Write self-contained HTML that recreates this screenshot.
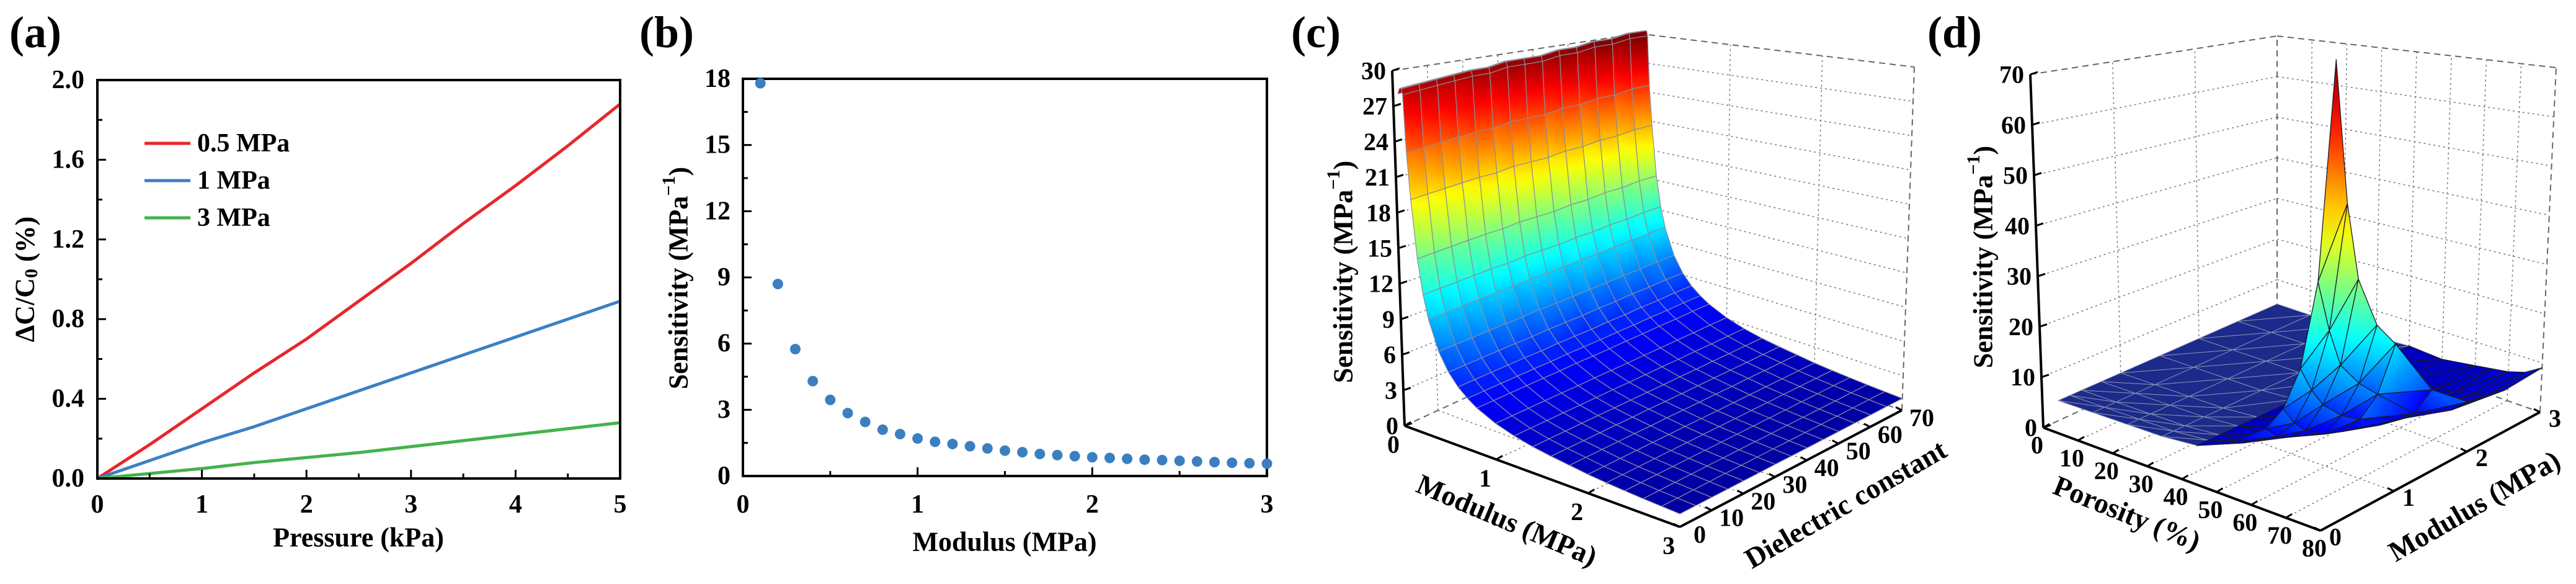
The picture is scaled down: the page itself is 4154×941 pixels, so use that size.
<!DOCTYPE html>
<html><head><meta charset="utf-8">
<style>
html,body{margin:0;padding:0;background:#fff;}
svg{display:block;font-family:"Liberation Serif",serif;}
</style></head>
<body>
<svg id="fig" xmlns="http://www.w3.org/2000/svg" width="4154" height="941" viewBox="0 0 4154 941">
<defs id="defs"></defs>
<rect width="4154" height="941" fill="#fff"/>
<g id="pa"></g>
<g id="pb"></g>
<g id="pc"></g>
<g id="pd"></g>
</svg>
<script>
// ---------- Panel (a) data ----------
const aPressure = [0,0.5,1,1.5,2,2.5,3,3.5,4,4.5,5];
const aRed   = [0,0.17,0.35,0.53,0.70,0.89,1.08,1.28,1.47,1.67,1.88];
const aBlue  = [0,0.09,0.18,0.26,0.35,0.44,0.53,0.62,0.71,0.80,0.89];
const aGreen = [0,0.025,0.05,0.08,0.105,0.13,0.16,0.19,0.22,0.25,0.28];
const aSeriesNames = ["0.5 MPa","1 MPa","3 MPa"];
const aXTicks = [0,1,2,3,4,5];
const aYTicks = ["0.0","0.4","0.8","1.2","1.6","2.0"];
// ---------- Panel (b) data ----------
const bModulus = [0.1,0.2,0.3,0.4,0.5,0.6,0.7,0.8,0.9,1.0,1.1,1.2,1.3,1.4,1.5,1.6,1.7,1.8,1.9,2.0,2.1,2.2,2.3,2.4,2.5,2.6,2.7,2.8,2.9,3.0];
const bSens = [17.8,8.7,5.75,4.3,3.45,2.85,2.45,2.1,1.9,1.7,1.55,1.45,1.35,1.25,1.15,1.08,1.0,0.95,0.9,0.85,0.82,0.78,0.74,0.72,0.69,0.66,0.63,0.6,0.58,0.56];
const bXTicks = [0,1,2,3];
const bYTicks = [0,3,6,9,12,15,18];
// ---------- Panel (c) data ----------
const cModulus = [0.05,0.07,0.09,0.1,0.12,0.15,0.2,0.25,0.3,0.4,0.5,0.6,0.7,0.8,1.0,1.2,1.4,1.6,1.8,2.0,2.2,2.4,2.6,2.8,3.0];
const cSensAtModulus = [29,29.5,29.5,29,24,20,15,12,10,7.5,6,5,4.3,3.75,3,2.5,2.15,1.9,1.7,1.5,1.36,1.25,1.15,1.07,1.0];
const cDielectric = [0,5,10,15,20,25,30,35,40,45,50,55,60,65,70];
const cDielFactor = [0.97,0.975,0.98,0.985,0.99,0.99,1.0,1.0,1.0,1.01,1.01,1.02,1.02,1.03,1.03];
const cZTicks = [0,3,6,9,12,15,18,21,24,27,30];
const cMTicks = [0,1,2,3];
const cDTicks = [0,10,20,30,40,50,60,70];
// ---------- Panel (d) data ----------
const dPorosity = [0,10,20,30,40,50,60,65,70,75,80];
const dModulus = [0.2,0.35,0.5,0.75,1.0,1.5,2.0,2.5,3.0];
const dSens = [
 [4,4,4,4,4,4,4,4,4],
 [4,4,4,4,4,4,4,4,4],
 [4,4,4,4,4,4,4,4,4],
 [4,4,4,4,4,4,4,4,4],
 [4.5,4.5,4.5,4.5,4.5,4.5,4.5,4.5,4.5],
 [7,6,5.5,5,4.5,4,3.5,3.5,4],
 [11,9,8,7,6,4.5,4,4,5],
 [15,12,10,8,7,5,4.5,4.5,5.5],
 [22,18,15,12,10,7,5.5,5,6],
 [36,28,22,18,15,9,6.5,6,7],
 [70,48,36,28,24,14,9,8,9]
];
const dZTicks = [0,10,20,30,40,50,60,70];
const dPTicks = [0,10,20,30,40,50,60,70,80];
const dMTicks = [0,1,2,3];

const NS="http://www.w3.org/2000/svg";
const defs=document.getElementById('defs');
let gradId=0;
function mk(tag,parent){const e=document.createElementNS(NS,tag);parent.appendChild(e);return e;}
function txt(parent,x,y,s,size,anchor,weight){const t=mk('text',parent);t.setAttribute('x',x);t.setAttribute('y',y);t.setAttribute('font-size',size);t.setAttribute('text-anchor',anchor||'middle');t.setAttribute('dominant-baseline','central');t.setAttribute('font-weight',weight||'bold');t.textContent=s;return t;}
function ln(parent,x1,y1,x2,y2,stroke,w,dash){const l=mk('line',parent);l.setAttribute('x1',x1);l.setAttribute('y1',y1);l.setAttribute('x2',x2);l.setAttribute('y2',y2);l.setAttribute('stroke',stroke);l.setAttribute('stroke-width',w);if(dash)l.setAttribute('stroke-dasharray',dash);return l;}

// ================= Panel a =================
(function(){
const g=document.getElementById('pa');
const L=157,R=1000,T=129,B=771;
const X=v=>L+(v/5)*(R-L), Y=v=>B-(v/2)*(B-T);
let t=txt(g,57,52,'(a)',72,'middle','bold');


const cols=['#e8262b','#3b80c3','#45b24a'];
const ser=[aRed,aBlue,aGreen];
ser.forEach((s,i)=>{
  const p=mk('polyline',g);
  p.setAttribute('points',s.map((v,j)=>X(aPressure[j])+','+Y(v)).join(' '));
  p.setAttribute('fill','none');p.setAttribute('stroke',cols[i]);p.setAttribute('stroke-width',5);
  
  
});
const fr=mk('rect',g);fr.setAttribute('x',L);fr.setAttribute('y',T);fr.setAttribute('width',R-L);fr.setAttribute('height',B-T);fr.setAttribute('fill','none');fr.setAttribute('stroke','#000');fr.setAttribute('stroke-width',4);


aXTicks.forEach(v=>{ln(g,X(v),B,X(v),B-14,'#000',3);
  const tl=txt(g,X(v),813,String(v),42,'middle','bold');
  
  
  if(v<5)ln(g,X(v+0.5),B,X(v+0.5),B-8,'#000',3);});
aYTicks.forEach(s=>{const v=parseFloat(s);ln(g,L,Y(v),L+14,Y(v),'#000',3);
  const tl=txt(g,136,Y(v),s,42,'end','bold');
  
  
  if(v<2)ln(g,L,Y(v+0.2),L+8,Y(v+0.2),'#000',3);});
const xt=txt(g,578,866,'Pressure (kPa)',44,'middle','bold');


const yt=txt(g,0,0,'',44,'middle','bold');
yt.setAttribute('transform','translate(40,450) rotate(-90)');
yt.innerHTML='ΔC/C<tspan font-size="30" dy="10">0</tspan><tspan dy="-10"> (%)</tspan>';


aSeriesNames.forEach((n,i)=>{
  const lg=mk('g',g);
  
  
  const y=231+i*60;
  ln(lg,233,y,307,y,cols[i],5);
  txt(lg,318,y,n,42,'start','bold');
});
})();

// ================= Panel b =================
(function(){
const g=document.getElementById('pb');
const L=1198,R=2043,T=127,B=767;
const X=v=>L+(v/3)*(R-L), Y=v=>B-(v/18)*(B-T);
let t=txt(g,1075,52,'(b)',72,'middle','bold');


const fr=mk('rect',g);fr.setAttribute('x',L);fr.setAttribute('y',T);fr.setAttribute('width',R-L);fr.setAttribute('height',B-T);fr.setAttribute('fill','none');fr.setAttribute('stroke','#000');fr.setAttribute('stroke-width',4);


bXTicks.forEach(v=>{ln(g,X(v),B,X(v),B-14,'#000',3);
  const tl=txt(g,X(v),813,String(v),42,'middle','bold');
  
  
  if(v<3)ln(g,X(v+0.5),B,X(v+0.5),B-8,'#000',3);});
bYTicks.forEach(v=>{ln(g,L,Y(v),L+14,Y(v),'#000',3);
  const tl=txt(g,1178,Y(v),String(v),42,'end','bold');
  
  
  if(v<18)ln(g,L,Y(v+1.5),L+8,Y(v+1.5),'#000',3);});
bModulus.forEach((m,i)=>{
  const c=mk('circle',g);c.setAttribute('cx',X(m));c.setAttribute('cy',Y(bSens[i]));c.setAttribute('r',8.5);c.setAttribute('fill','#3b7fc1');
  
  
});
const xt=txt(g,1620,873,'Modulus (MPa)',44,'middle','bold');


const yt=txt(g,0,0,'',44,'middle','bold');
yt.setAttribute('transform','translate(1094,448) rotate(-90)');
yt.innerHTML='Sensitivity (MPa<tspan font-size="30" dy="-16">−1</tspan><tspan dy="16">)</tspan>';


})();

// ================= 3D helpers =================
function jet(t){t=Math.max(0,Math.min(1,t));const c=v=>Math.round(255*Math.max(0,Math.min(1,v)));
 return 'rgb('+c(1.5-Math.abs(4*t-3))+','+c(1.5-Math.abs(4*t-2))+','+c(1.5-Math.abs(4*t-1))+')';}
function makeProj(A,B,C,D,H,TX,zmax){
 return function(u,v,z){
  const w=[(1-u)*(1-v),u*(1-v),u*v,(1-u)*v];
  const P=[A,B,C,D];
  let x=0,y=0,h=0,tx=0;
  for(let k=0;k<4;k++){x+=w[k]*P[k][0];y+=w[k]*P[k][1];h+=w[k]*H[k];tx+=w[k]*TX[k];}
  return [x+tx*z/zmax,y-h*z/zmax];
 };
}
function poly(parent,pts,fill,stroke,sw){const p=mk('polygon',parent);p.setAttribute('points',pts.map(q=>q[0].toFixed(1)+','+q[1].toFixed(1)).join(' '));p.setAttribute('fill',fill);p.setAttribute('stroke',stroke);p.setAttribute('stroke-width',sw);p.setAttribute('stroke-linejoin','round');return p;}
function gradFill(pts,zs,zmax){
 let iMax=0,iMin=0;
 zs.forEach((z,i)=>{if(z>zs[iMax])iMax=i;if(z<zs[iMin])iMin=i;});
 const zH=zs[iMax],zL=zs[iMin];
 if(zH-zL<zmax*0.03)return jet((zH+zL)/2/zmax);
 const id='g'+(gradId++);
 const lg=mk('linearGradient',defs);
 lg.setAttribute('id',id);lg.setAttribute('gradientUnits','userSpaceOnUse');
 lg.setAttribute('x1',pts[iMax][0]);lg.setAttribute('y1',pts[iMax][1]);
 lg.setAttribute('x2',pts[iMin][0]);lg.setAttribute('y2',pts[iMin][1]);
 for(let k=0;k<=6;k++){const s=mk('stop',lg);s.setAttribute('offset',k/6);s.setAttribute('stop-color',jet((zH+(zL-zH)*k/6)/zmax));}
 return 'url(#'+id+')';
}
function box3d(g,P,zTicks,uTicks,vTicks,zmax){
 const grid=mk('g',g);
 
 
 const seg=(a,b,st,w,d)=>ln(grid,a[0],a[1],b[0],b[1],st,w,d);
 zTicks.forEach(z=>{ if(z>0&&z<zmax){seg(P(0,0,z),P(0,1,z),'#777',1.5,'3,5');seg(P(0,1,z),P(1,1,z),'#777',1.5,'3,5');}});
 uTicks.forEach(u=>{ if(u>0&&u<1){seg(P(u,1,0),P(u,1,zmax),'#777',1.5,'3,5');seg(P(u,0,0),P(u,1,0),'#777',1.5,'3,5');}});
 vTicks.forEach(v=>{ if(v>0&&v<1){seg(P(0,v,0),P(0,v,zmax),'#777',1.5,'3,5');seg(P(0,v,0),P(1,v,0),'#777',1.5,'3,5');}});
 seg(P(0,0,zmax),P(0,1,zmax),'#666',2,'10,7');
 seg(P(0,1,zmax),P(1,1,zmax),'#666',2,'10,7');
 seg(P(0,1,0),P(0,1,zmax),'#666',2,'10,7');
 seg(P(1,1,0),P(1,1,zmax),'#666',2,'10,7');
 seg(P(0,1,0),P(1,1,0),'#666',2,'10,7');
 seg(P(0,0,0),P(0,1,0),'#666',2,'10,7');
}
function axes3d(g,P,zmax){
 const a=mk('g',g);
 
 
 const s=(p,q)=>ln(a,p[0],p[1],q[0],q[1],'#000',4);
 s(P(0,0,0),P(0,0,zmax));s(P(0,0,0),P(1,0,0));s(P(1,0,0),P(1,1,0));
 return a;
}

// ================= Panel c =================
(function(){
const g=document.getElementById('pc');
const zmax=30;
const P=makeProj([2265,686],[2709,849],[3067,661],[2642,513],[572,650,553,459],[-20,0,20,0],zmax);
let t=txt(g,2122,52,'(c)',72,'middle','bold');


box3d(g,P,cZTicks,cMTicks.map(m=>m/3),cDTicks.map(d=>d/70),zmax);
const surf=mk('g',g);


const quads=[];
for(let i=0;i<cModulus.length-1;i++)for(let j=0;j<cDielectric.length-1;j++){
 const corners=[[i,j],[i+1,j],[i+1,j+1],[i,j+1]].map(([a,b])=>({u:cModulus[a]/3,v:cDielectric[b]/70,z:cSensAtModulus[a]*cDielFactor[b]}));
 const dist=(1-(cModulus[i]+cModulus[i+1])/6)+(cDielectric[j]+cDielectric[j+1])/140;
 quads.push({corners,dist});
}
quads.sort((a,b)=>b.dist-a.dist);
quads.forEach(q=>{
 const pts=q.corners.map(c=>P(c.u,c.v,c.z));
 const p=poly(surf,pts,gradFill(pts,q.corners.map(c=>c.z),zmax),'#8c8c9c',1.2);
 
 
});
axes3d(g,P,zmax);
cZTicks.forEach(z=>{const p=P(0,0,z);ln(g,p[0],p[1],p[0]+12,p[1]-4,'#000',3);
 const tl=txt(g,p[0]-10,p[1],String(z),40,'end','bold');
 
 });
cMTicks.forEach(m=>{const p=P(m/3,0,0);ln(g,p[0],p[1],p[0]+10,p[1]-6,'#000',3);
 const tl=txt(g,p[0]-18,p[1]+30,String(m),40,'middle','bold');
 
 });
cDTicks.forEach(d=>{const p=P(1,d/70,0);ln(g,p[0],p[1],p[0]-10,p[1]-5,'#000',3);
 const tl=txt(g,p[0]+32,p[1]+12,String(d),40,'middle','bold');
 
 });
let a1=txt(g,0,0,'Modulus (MPa)',46,'middle','bold');
a1.setAttribute('transform','translate(2430,838) rotate(23)');


let a2=txt(g,0,0,'Dielectric constant',46,'middle','bold');
a2.setAttribute('transform','translate(2976,812) rotate(-30)');


let a3=txt(g,0,0,'',44,'middle','bold');
a3.setAttribute('transform','translate(2166,438) rotate(-90)');
a3.innerHTML='Sensitivity (MPa<tspan font-size="30" dy="-16">−1</tspan><tspan dy="16">)</tspan>';


})();

// ================= Panel d =================
(function(){
const g=document.getElementById('pd');
const zmax=70;
const P=makeProj([3295,689],[3742,855],[4096,664],[3672,516],[569,760,555,458],[-21,0,26,0],zmax);
let t=txt(g,3152,52,'(d)',72,'middle','bold');


box3d(g,P,dZTicks,dPTicks.map(p=>p/80),dMTicks.map(m=>m/3),zmax);
const surf=mk('g',g);


const tris=[];
for(let i=0;i<dPorosity.length-1;i++)for(let j=0;j<dModulus.length-1;j++){
 const corners=[[i,j],[i+1,j],[i+1,j+1],[i,j+1]].map(([a,b])=>({u:dPorosity[a]/80,v:dModulus[b]/3,z:dSens[a][b]}));
 const dist=(1-(dPorosity[i]+dPorosity[i+1])/160)+(dModulus[j]+dModulus[j+1])/6;
 const flat=dPorosity[i+1]<=40;
 tris.push({tri:[corners[0],corners[1],corners[2]],dist,flat});
 tris.push({tri:[corners[0],corners[2],corners[3]],dist,flat});
}
tris.sort((a,b)=>b.dist-a.dist);
tris.forEach(q=>{
 const pts=q.tri.map(c=>P(c.u,c.v,c.z));
 const fill=q.flat?'#1c2a8a':gradFill(pts,q.tri.map(c=>c.z),zmax);
 const p=poly(surf,pts,fill,q.flat?'#8890b0':'#1a1a2a',q.flat?1:1.3);
 
 
});
axes3d(g,P,zmax);
dZTicks.forEach(z=>{const p=P(0,0,z);ln(g,p[0],p[1],p[0]+12,p[1]-4,'#000',3);
 const tl=txt(g,p[0]-10,p[1],String(z),40,'end','bold');
 
 });
dPTicks.forEach(v=>{const p=P(v/80,0,0);ln(g,p[0],p[1],p[0]+10,p[1]-6,'#000',3);
 const tl=txt(g,p[0]-10,p[1]+28,String(v),40,'middle','bold');
 
 });
dMTicks.forEach(m=>{const p=P(1,m/3,0);ln(g,p[0],p[1],p[0]-10,p[1]-5,'#000',3);
 const tl=txt(g,p[0]+24,p[1]+10,String(m),40,'middle','bold');
 
 });
let a1=txt(g,0,0,'Porosity (%)',46,'middle','bold');
a1.setAttribute('transform','translate(3430,827) rotate(22)');


let a2=txt(g,0,0,'Modulus (MPa)',46,'middle','bold');
a2.setAttribute('transform','translate(3990,815) rotate(-30)');


let a3=txt(g,0,0,'',44,'middle','bold');
a3.setAttribute('transform','translate(3198,414) rotate(-90)');
a3.innerHTML='Sensitivity (MPa<tspan font-size="30" dy="-16">−1</tspan><tspan dy="16">)</tspan>';


})();
</script>
</body></html>
